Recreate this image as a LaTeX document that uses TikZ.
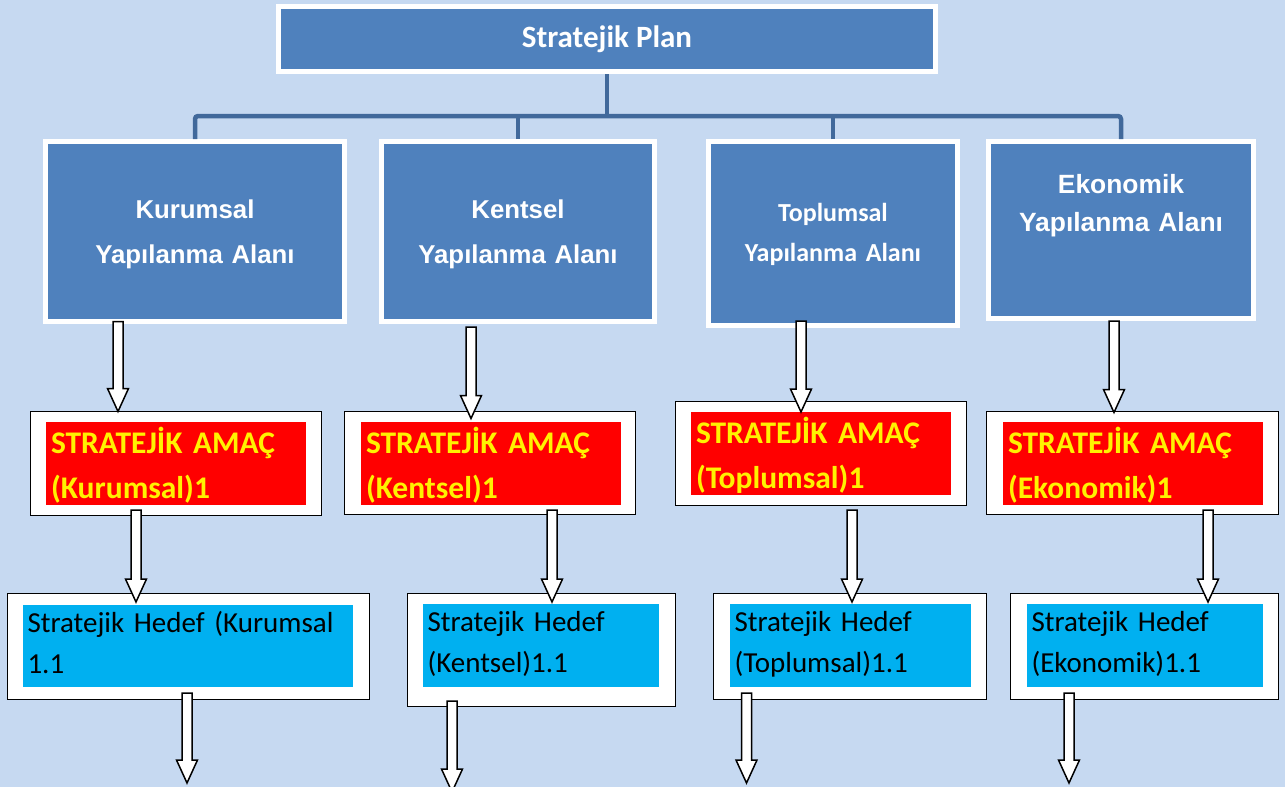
\documentclass[tikz,border=0pt]{standalone}
\usepackage{fontspec}
\setmainfont{Carlito}
\newfontfamily\arialfont{Liberation Sans}
\usetikzlibrary{calc}

\newlength{\du}
\setlength{\du}{1pt}

\definecolor{backblue}{HTML}{C6D9F1}
\definecolor{areablue}{HTML}{4F81BD}
\definecolor{treeblue}{HTML}{41699B}
\definecolor{hedefcyan}{HTML}{00B0F0}

% white block arrow: shaft x and start from #1, tip at the height of #2
\newcommand{\blockarrow}[2]{%
\draw[blockarrow] let \p1=(#1), \p2=(#2) in
(\x1-5\du,\y1)--(\x1-5\du,\y2+23\du)--(\x1-10.5\du,\y2+23\du)--(\x1,\y2)
--(\x1+10.5\du,\y2+23\du)--(\x1+5\du,\y2+23\du)--(\x1+5\du,\y1)--cycle;}

\begin{document}
\begin{tikzpicture}[x=1\du,y=-1\du]
\tikzstyle{every node}=[inner sep=0pt, outer sep=0pt]
\tikzstyle{area}=[draw=white, line width=5\du, fill=areablue, text=white, align=center, font=\arialfont\bfseries\fontsize{25.8}{45}\selectfont]
\tikzstyle{treeline}=[draw=treeblue, line width=4.5\du, rounded corners=3\du]
\tikzstyle{boxframe}=[draw=black, line width=1.5\du, fill=white]
\tikzstyle{amac}=[fill=red, text=yellow, align=left, inner xsep=5\du, minimum height=83\du, text height=26\du, text depth=47\du, font=\bfseries\fontsize{31.5}{45}\selectfont]
\tikzstyle{hedef}=[fill=hedefcyan, text=black, align=left, inner xsep=4.5\du, minimum height=83\du, text height=20\du, text depth=48\du, font=\fontsize{29}{41}\selectfont]
\tikzstyle{blockarrow}=[draw=black, line width=1.5\du, fill=white, line join=miter]

\useasboundingbox (0,0) rectangle (1285,787);
\fill[backblue] (0,0) rectangle (1285,787);

% top of the tree
\node[area, minimum width=657\du, minimum height=65\du, font=\bfseries\fontsize{31}{36}\selectfont] (plan) at (607,39) {Stratejik Plan};

\node[area, text width=299\du, minimum height=180\du, text height=18\du, text depth=45\du] (kurumsal) at (195,231.5) {Kurumsal\\Yap\i lanma Alan\i};
\node[area, text width=273\du, minimum height=180\du, text height=18\du, text depth=45\du] (kentsel) at (518,231.5) {Kentsel\\Yap\i lanma Alan\i};
\node[area, text width=249\du, minimum height=184\du, text height=18\du, text depth=42\du, font=\bfseries\fontsize{26}{40}\selectfont] (toplumsal) at (833,233.5) {Toplumsal\\Yap\i lanma Alan\i};
\node[area, text width=265\du, minimum height=177\du, text height=19\du, text depth=92\du, font=\arialfont\bfseries\fontsize{26.4}{38}\selectfont] (ekonomik) at (1121,230) {Ekonomik\\Yap\i lanma Alan\i};

\coordinate (hub) at (607,116);
\draw[treeline, shorten <=2.5\du] (plan.south) -- (hub);
\draw[treeline, shorten <=2.5\du, shorten >=2.5\du] (kurumsal.north) |- (hub) -| (ekonomik.north);
\draw[treeline, shorten <=2.5\du] (kentsel.north) -- (kentsel.north |- hub);
\draw[treeline, shorten <=2.5\du] (toplumsal.north) -- (toplumsal.north |- hub);

% stratejik amaclar
\node[boxframe, minimum width=291\du, minimum height=104\du] (amac1) at (176,463.5) {};
\node[amac, text width=250\du] (amac1t) at (176,463.5) {STRATEJİK AMAÇ\\(Kurumsal)1};
\node[boxframe, minimum width=291\du, minimum height=103\du] (amac2) at (490,463) {};
\node[amac, text width=250\du] (amac2t) at (491,463.5) {STRATEJİK AMAÇ\\(Kentsel)1};
\node[boxframe, minimum width=291\du, minimum height=104\du] (amac3) at (821,453.5) {};
\node[amac, text width=250\du] (amac3t) at (821,453.5) {STRATEJİK AMAÇ\\(Toplumsal)1};
\node[boxframe, minimum width=292\du, minimum height=103\du] (amac4) at (1132.5,463) {};
\node[amac, text width=250\du] (amac4t) at (1133,463.5) {STRATEJİK AMAÇ\\(Ekonomik)1};

% stratejik hedefler
\node[boxframe, minimum width=362\du, minimum height=106\du] (hedef1) at (188.5,646.5) {};
\node[hedef, text width=321\du, minimum height=82\du] (hedef1t) at (188,646) {Stratejik Hedef (Kurumsal\\1.1};
\node[boxframe, minimum width=268\du, minimum height=113\du] (hedef2) at (541.5,650) {};
\node[hedef, text width=227\du] (hedef2t) at (541,645.5) {Stratejik Hedef\\(Kentsel)1.1};
\node[boxframe, minimum width=273\du, minimum height=106\du] (hedef3) at (850,646.5) {};
\node[hedef, text width=232\du] (hedef3t) at (850.5,645.5) {Stratejik Hedef\\(Toplumsal)1.1};
\node[boxframe, minimum width=268\du, minimum height=106\du] (hedef4) at (1144.5,646.5) {};
\node[hedef, text width=227\du] (hedef4t) at (1145,645.5) {Stratejik Hedef\\(Ekonomik)1.1};

\coordinate (out1) at (187,783);
\coordinate (out2) at (452,792);
\coordinate (out3) at (746.5,783);
\coordinate (out4) at (1069,783);

% arrows
\blockarrow{[xshift=-77\du]kurumsal.south}{amac1.north}
\blockarrow{[xshift=-47\du,yshift=-5.5\du]kentsel.south}{[yshift=-7\du]amac2.north}
\blockarrow{[xshift=-32\du,yshift=4.5\du]toplumsal.south}{[yshift=-10.5\du]amac3.north}
\blockarrow{[xshift=-7\du,yshift=-2.5\du]ekonomik.south}{[yshift=-1\du]amac4.north}

\blockarrow{[xshift=-40\du,yshift=-5\du]amac1t.south}{[yshift=-8.5\du]hedef1.north}
\blockarrow{[xshift=61\du,yshift=-5\du]amac2t.south}{[yshift=-8.5\du]hedef2.north}
\blockarrow{[xshift=31\du,yshift=-4.5\du]amac3.south}{[yshift=-8.5\du]hedef3.north}
\blockarrow{[xshift=75\du,yshift=-5\du]amac4t.south}{[yshift=-8.5\du]hedef4.north}

\blockarrow{[xshift=-1\du,yshift=-6\du]hedef1t.south}{out1}
\blockarrow{[xshift=-89\du,yshift=-14\du]hedef2t.south}{out2}
\blockarrow{[xshift=-104\du,yshift=-6\du]hedef3t.south}{out3}
\blockarrow{[xshift=-76\du,yshift=-6\du]hedef4t.south}{out4}
\end{tikzpicture}
\end{document}
